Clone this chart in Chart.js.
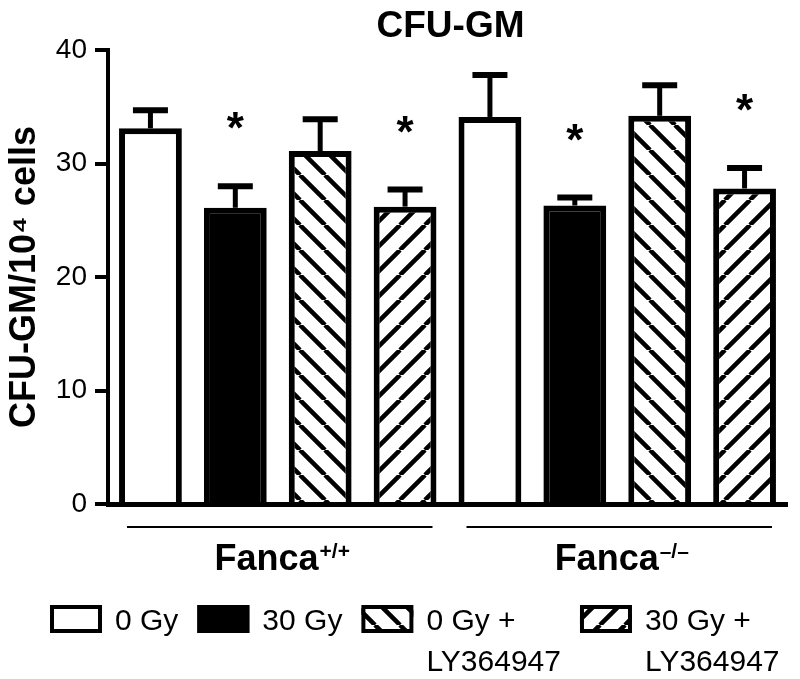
<!DOCTYPE html>
<html lang="en">
  <head>
    <meta charset="UTF-8" />
    <title>CFU-GM</title>
    <style>
      body { margin: 0; background: #fff; }
      #wrap { width: 800px; height: 679px; }
    </style>
  </head>
  <body>
    <div id="wrap"><canvas id="myChart"></canvas></div>
    <script src="https://cdn.jsdelivr.net/npm/chart.js"></script>
    <script>
      // data
      const groups = ['Fanca', 'Fanca'];
      const groupSup = ['+/+', '\u2013/\u2013'];
      const seriesNames = ['0 Gy', '30 Gy', '0 Gy +\nLY364947', '30 Gy +\nLY364947'];
      const gy0 = [33.1, 34.1];
      const gy30 = [26.1, 26.3];
      const gy0LY = [31.1, 34.2];
      const gy30LY = [26.2, 27.8];
      const gy0Err = [1.6, 3.7];
      const gy30Err = [1.9, 0.7];
      const gy0LYErr = [2.8, 2.7];
      const gy30LYErr = [1.5, 1.8];
      const significant = [false, true, false, true];
      const yTicks = [0, 10, 20, 30, 40];

      const FONT = '"Liberation Sans", Arial, Helvetica, sans-serif';

      function hatch(dir) {
        const T = 25;
        const c = document.createElement('canvas');
        c.width = T; c.height = T;
        const g = c.getContext('2d');
        g.fillStyle = '#fff';
        g.fillRect(0, 0, T, T);
        g.strokeStyle = '#000';
        g.lineWidth = 4.5;
        g.beginPath();
        for (let k = -1; k <= 1; k++) {
          if (dir == '/') {
            g.moveTo(k * T, T); g.lineTo(k * T + T, 0);
          } else {
            g.moveTo(k * T, 0); g.lineTo(k * T + T, T);
          }
        }
        g.stroke();
        return c.getContext('2d').createPattern(c, 'repeat');
      }

      const fills = ['#ffffff', '#000000', hatch('\\'), hatch('/')];
      const values = [gy0, gy30, gy0LY, gy30LY];
      const errs = [gy0Err, gy30Err, gy0LYErr, gy30LYErr];

      const extras = {
        id: 'extras',
        afterDatasetsDraw(chart) {
          const ctx = chart.ctx;
          const y = chart.scales.y;
          ctx.save();
          ctx.strokeStyle = '#000';
          ctx.fillStyle = '#000';
          chart.data.datasets.forEach((ds, di) => {
            const meta = chart.getDatasetMeta(di);
            meta.data.forEach((bar, i) => {
              const top = y.getPixelForValue(ds.data[i] + ds.err[i]);
              ctx.lineWidth = 5;
              ctx.beginPath();
              ctx.moveTo(bar.x, bar.y);
              ctx.lineTo(bar.x, top);
              ctx.stroke();
              ctx.lineWidth = 6;
              ctx.beginPath();
              ctx.moveTo(bar.x - 17.5, top);
              ctx.lineTo(bar.x + 17.5, top);
              ctx.stroke();
              if (ds.sig) {
                ctx.font = 'bold 44px ' + FONT;
                ctx.textAlign = 'center';
                ctx.textBaseline = 'middle';
                ctx.fillText('*', bar.x, top - 55);
              }
            });
          });
          ctx.restore();
        },
        afterDraw(chart) {
          const ctx = chart.ctx;
          const area = chart.chartArea;
          const x = chart.scales.x;
          ctx.save();
          ctx.fillStyle = '#000';
          ctx.strokeStyle = '#000';

          // title
          ctx.font = 'bold 37px ' + FONT;
          ctx.textAlign = 'center';
          ctx.textBaseline = 'alphabetic';
          ctx.fillText('CFU-GM', (area.left + area.right) / 2 + 3, 37);

          // group brackets and labels
          const cw = x.width / groups.length;
          groups.forEach((g, i) => {
            const cx = x.getPixelForValue(i);
            ctx.lineWidth = 2;
            ctx.beginPath();
            ctx.moveTo(cx - cw / 2 + 19, 527);
            ctx.lineTo(cx + cw / 2 - 15, 527);
            ctx.stroke();
            ctx.font = 'bold 36px ' + FONT;
            const w1 = ctx.measureText(g).width;
            ctx.font = 'bold 21px ' + FONT;
            const w2 = ctx.measureText(groupSup[i]).width;
            const sx = cx - (w1 + w2) / 2 + 4;
            ctx.textAlign = 'left';
            ctx.font = 'bold 36px ' + FONT;
            ctx.fillText(g, sx, 570);
            ctx.font = 'bold 21px ' + FONT;
            ctx.fillText(groupSup[i], sx + w1 + 1, 558);
          });

          // legend
          let lx = 50;
          ctx.font = '30px ' + FONT;
          ctx.textBaseline = 'middle';
          chart.data.datasets.forEach((ds) => {
            ctx.fillStyle = ds.backgroundColor;
            ctx.fillRect(lx, 605, 52, 28);
            ctx.lineWidth = 4;
            ctx.strokeRect(lx + 2, 607, 48, 24);
            ctx.fillStyle = '#000';
            const lines = ds.label.split('\n');
            let tw = 0;
            lines.forEach((t, k) => {
              ctx.fillText(t, lx + 65, 622 + k * 41);
              tw = Math.max(tw, ctx.measureText(t).width);
            });
            lx += 65 + tw + 19;
          });
          ctx.restore();
        }
      };

      const data = {
        labels: groups.map((g, i) => g + groupSup[i]),
        datasets: seriesNames.map((name, i) => ({
          label: name,
          data: values[i],
          err: errs[i],
          sig: significant[i],
          backgroundColor: fills[i],
          borderColor: '#000',
          borderWidth: 6,
          borderSkipped: 'start'
        }))
      };

      const config = {
        type: 'bar',
        data,
        options: {
          responsive: true,
          maintainAspectRatio: false,
          animation: false,
          layout: { padding: { top: 50, right: 13, left: 0, bottom: 0 } },
          datasets: { bar: { categoryPercentage: 1.0, barPercentage: 0.74 } },
          plugins: { legend: { display: false }, tooltip: { enabled: false } },
          scales: {
            x: {
              grid: { display: false },
              ticks: { display: false },
              border: { display: true, color: '#000', width: 5 },
              afterFit(s) { s.height = 175; }
            },
            y: {
              min: 0,
              max: 40,
              afterBuildTicks(s) { s.ticks = yTicks.map(v => ({ value: v })); },
              ticks: { color: '#000', font: { family: FONT, size: 28 }, padding: 8 },
              grid: { drawOnChartArea: false, drawTicks: true, tickLength: 13, color: '#000', lineWidth: 4 },
              border: { display: true, color: '#000', width: 4 },
              title: {
                display: true,
                text: 'CFU-GM/10\u2074 cells',
                color: '#000',
                font: { family: FONT, size: 36, weight: 'bold' },
                padding: { top: 3, bottom: 0 }
              },
              afterFit(s) { s.width = 108; }
            }
          }
        },
        plugins: [extras]
      };

      var myChart = new Chart(document.getElementById('myChart'), config);
    </script>
  </body>
</html>
